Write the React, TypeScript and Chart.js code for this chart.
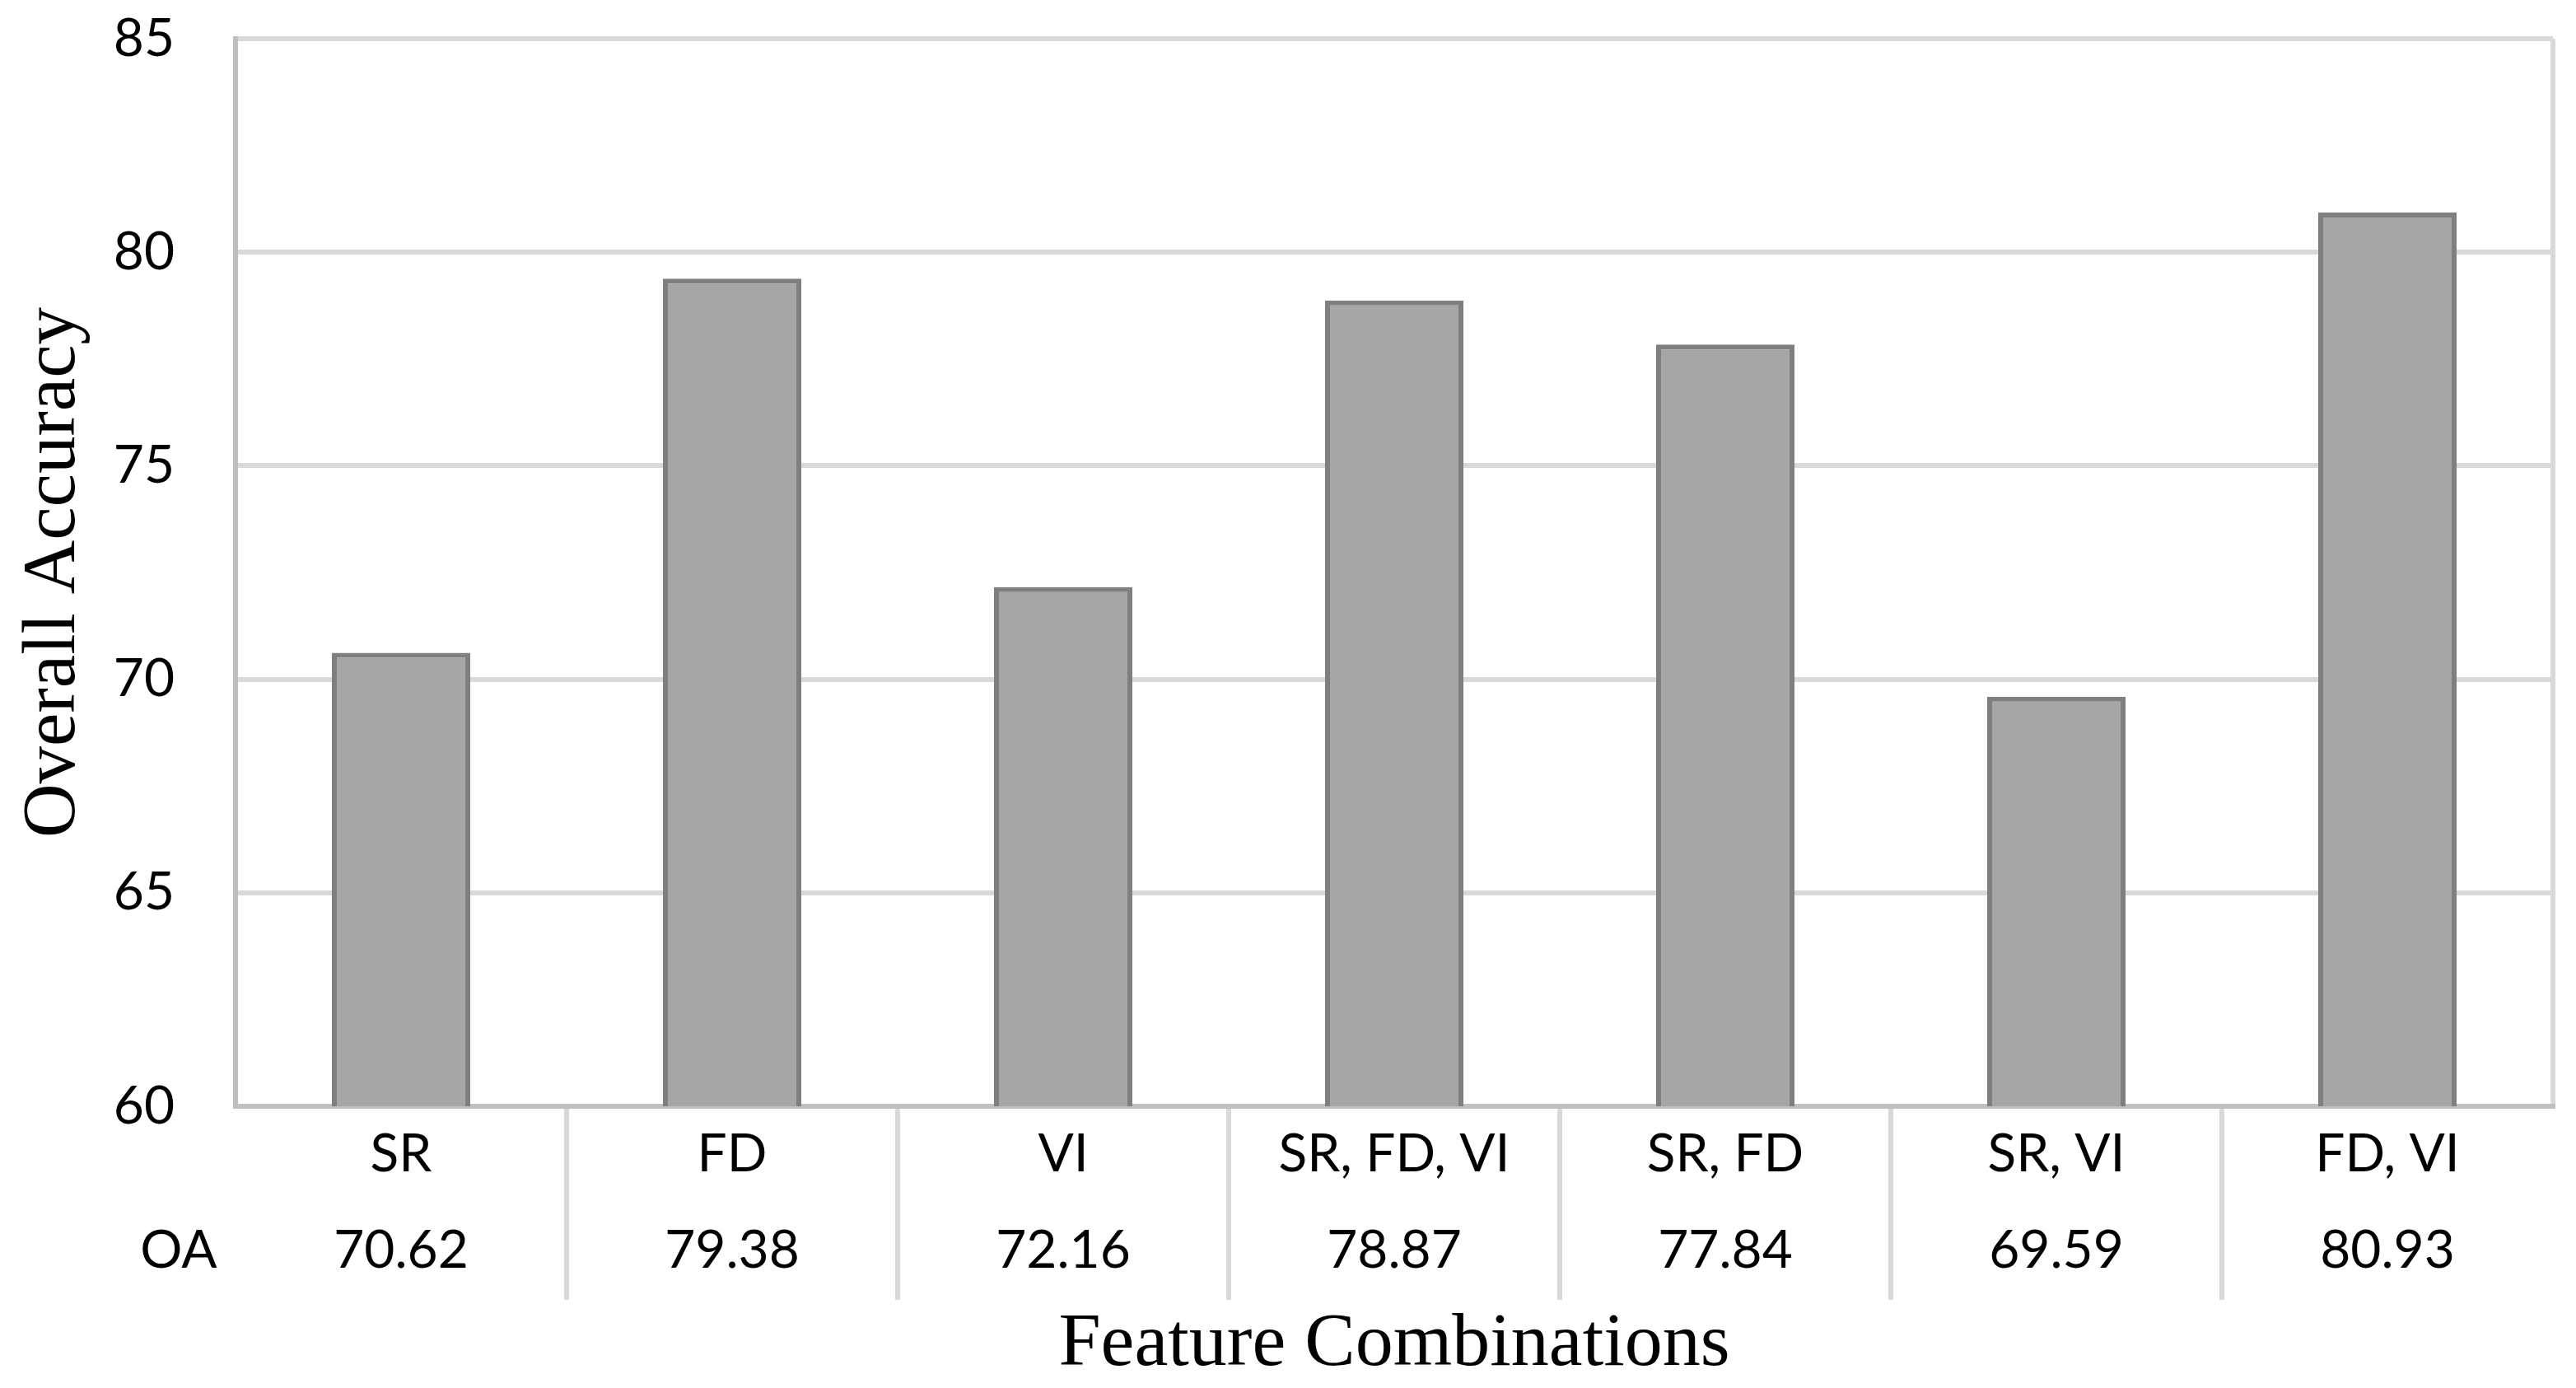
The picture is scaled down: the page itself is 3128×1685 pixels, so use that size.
import React, { useEffect, useRef } from "react";
import { Chart, registerables } from "chart.js";

Chart.register(...registerables);

const categories = ["SR", "FD", "VI", "SR, FD, VI", "SR, FD", "SR, VI", "FD, VI"];
const oaValues = [70.62, 79.38, 72.16, 78.87, 77.84, 69.59, 80.93];
const yMin = 60;
const yMax = 85;
const yStep = 5;
const rowLabel = "OA";
const xTitle = "Feature Combinations";
const yTitle = "Overall Accuracy";

const TICK_FONT = "Lato";
const TITLE_FONT = "Liberation Serif";
const TICK_SIZE = 64;
const ROW_H = 117;
const TICK_LEN = 235;
const LABEL_PAD = -235;

const rowLabelPlugin = {
  id: "rowLabel",
  afterDraw(chart: any) {
    const xs = chart.scales.x;
    const ctx = chart.ctx;
    ctx.save();
    ctx.font = `${TICK_SIZE}px ${TICK_FONT}`;
    ctx.fillStyle = "#000";
    ctx.textAlign = "center";
    ctx.textBaseline = "middle";
    const y = xs.top + TICK_LEN + LABEL_PAD + ROW_H * 1.5;
    ctx.fillText(rowLabel, 217, y);
    ctx.restore();
  },
};

export default function App() {
  const ref = useRef<HTMLCanvasElement | null>(null);

  useEffect(() => {
    if (!ref.current) return;
    const labels = categories.map((c, i) => [c, oaValues[i].toFixed(2)]);
    const chart = new Chart(ref.current, {
      type: "bar",
      data: {
        labels,
        datasets: [
          {
            label: "OA",
            data: oaValues,
            backgroundColor: "#a6a6a6",
            borderColor: "#7f7f7f",
            borderWidth: 6,
            barPercentage: 0.418,
            categoryPercentage: 1,
          },
        ],
      },
      plugins: [rowLabelPlugin],
      options: {
        animation: false,
        responsive: true,
        maintainAspectRatio: false,
        devicePixelRatio: 1,
        layout: { padding: { top: 47, right: 28, left: 0, bottom: 0 } },
        plugins: {
          legend: { display: false },
          tooltip: { enabled: false },
        },
        scales: {
          x: {
            offset: true,
            afterFit: (s: any) => {
              s.height = 342;
            },
            grid: {
              display: true,
              offset: true,
              drawOnChartArea: true,
              drawTicks: true,
              tickLength: TICK_LEN,
              lineWidth: 6,
              color: (c: any) => (c.index === undefined ? "#d9d9d9" : "rgba(0,0,0,0)"),
              tickColor: (c: any) =>
                c.index !== undefined && c.index > 0 ? "#d9d9d9" : "rgba(0,0,0,0)",
              tickWidth: 6,
            },
            border: { display: true, color: "#bfbfbf", width: 6 },
            ticks: {
              color: "#000",
              padding: LABEL_PAD,
              maxRotation: 0,
              autoSkip: false,
              font: { family: TICK_FONT, size: TICK_SIZE, lineHeight: ROW_H / TICK_SIZE },
            },
            title: {
              display: true,
              text: xTitle,
              color: "#000",
              font: { family: TITLE_FONT, size: 92, lineHeight: 1 },
              padding: { top: 0, bottom: 6 },
            },
          },
          y: {
            min: yMin,
            max: yMax,
            afterFit: (s: any) => {
              s.width = 286;
              s.paddingTop = 0;
              s.paddingBottom = 0;
            },
            grid: {
              color: "#d9d9d9",
              lineWidth: 6,
              drawTicks: false,
            },
            border: { display: true, color: "#bfbfbf", width: 6 },
            ticks: {
              stepSize: yStep,
              color: "#000",
              padding: 74,
              font: { family: TICK_FONT, size: TICK_SIZE },
            },
            title: {
              display: true,
              text: yTitle,
              color: "#000",
              font: { family: TITLE_FONT, size: 91, lineHeight: 1 },
              padding: { top: 21, bottom: 0 },
            },
          },
        },
      },
    });
    return () => chart.destroy();
  }, []);

  return (
    <div
      style={{
        position: "fixed",
        left: 0,
        top: 0,
        width: "3128px",
        height: "1685px",
        background: "#ffffff",
      }}
    >
      <canvas ref={ref} />
    </div>
  );
}
